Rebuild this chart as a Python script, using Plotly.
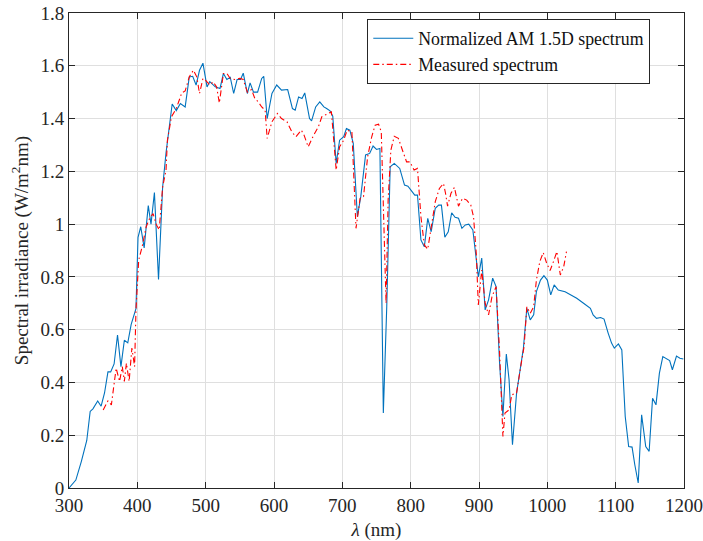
import plotly.graph_objects as go

# Normalized AM 1.5D reference spectrum (wavelength in nm, irradiance in W/m^2nm)
am15_wl = [300, 310, 318, 326, 331, 335, 342, 347, 352, 357, 361, 366, 371, 376, 381, 386,
           391, 396, 398, 401, 405, 410, 416, 420, 425, 431, 437, 442, 445, 451, 457, 463,
           470, 476, 481, 486, 491, 496, 502, 506, 514, 521, 526, 531, 536, 541, 546, 551,
           555, 561, 565, 570, 576, 582, 585, 590, 597, 604, 611, 620, 627, 631, 636, 641,
           645, 652, 655, 661, 667, 673, 677, 682, 686, 691, 696, 702, 706, 711, 716, 722,
           727, 734, 740, 745, 750, 755, 760, 765, 770, 776, 784, 791, 796, 806, 810, 815,
           820, 825, 830, 836, 841, 845, 850, 855, 860, 865, 870, 875, 880, 885, 891, 896,
           899, 904, 909, 914, 920, 925, 930, 935, 940, 944, 949, 955, 960, 965, 970, 975,
           980, 984, 990, 995, 1000, 1005, 1010, 1016, 1026, 1033, 1043, 1053, 1063, 1067,
           1072, 1078, 1083, 1089, 1094, 1098, 1104, 1109, 1114, 1119, 1124, 1128, 1133,
           1138, 1144, 1149, 1154, 1159, 1164, 1169, 1174, 1179, 1183, 1189, 1194, 1199]
am15_val = [0.00, 0.03, 0.10, 0.18, 0.29, 0.30, 0.33, 0.31, 0.36, 0.44, 0.44, 0.47, 0.58, 0.46, 0.56, 0.55,
            0.62, 0.67, 0.68, 0.95, 0.99, 0.91, 1.07, 1.00, 1.12, 0.79, 1.14, 1.27, 1.34, 1.455, 1.43, 1.457,
            1.444, 1.558, 1.56, 1.527, 1.583, 1.61, 1.52, 1.54, 1.52, 1.514, 1.571, 1.548, 1.556, 1.495, 1.548, 1.548,
            1.572, 1.495, 1.535, 1.50, 1.50, 1.552, 1.56, 1.40, 1.495, 1.527, 1.508, 1.51, 1.438, 1.432, 1.482, 1.476,
            1.497, 1.40, 1.391, 1.444, 1.463, 1.444, 1.438, 1.429, 1.409, 1.23, 1.318, 1.331, 1.362, 1.356, 1.306, 1.028,
            1.104, 1.262, 1.268, 1.296, 1.283, 1.287, 0.284, 0.687, 1.217, 1.23, 1.211, 1.148, 1.144, 1.11, 1.11, 0.94,
            0.914, 1.022, 0.971, 1.06, 1.072, 1.072, 0.95, 0.971, 1.043, 1.026, 1.022, 0.984, 0.997, 1.0, 0.978, 0.852,
            0.80, 0.871, 0.675, 0.713, 0.795, 0.763, 0.479, 0.271, 0.508, 0.41, 0.164, 0.36, 0.441, 0.53, 0.681, 0.637,
            0.656, 0.744, 0.788, 0.805, 0.788, 0.732, 0.77, 0.75, 0.744, 0.735, 0.719, 0.70, 0.681, 0.656,
            0.643, 0.646, 0.64, 0.587, 0.549, 0.53, 0.546, 0.523, 0.271, 0.157, 0.155, 0.088, 0.019,
            0.277, 0.157, 0.139, 0.34, 0.315, 0.435, 0.498, 0.492, 0.483, 0.448, 0.50, 0.492, 0.489]

# Measured spectrum
meas_wl = [350, 357, 362, 369, 374, 378, 381, 384, 388, 392, 396, 398, 402, 407, 413, 418,
           423, 428, 432, 437, 442, 444, 450, 457, 465, 470, 476, 482, 487, 491, 496, 500,
           506, 511, 516, 520, 526, 531, 536, 543, 550, 555, 561, 567, 572, 577, 582, 587,
           590, 597, 605, 611, 619, 626, 632, 640, 644, 650, 658, 665, 670, 677, 684, 691,
           696, 702, 707, 714, 720, 726, 731, 737, 743, 748, 753, 757, 760, 764, 767, 771,
           776, 782, 788, 794, 799, 805, 810, 815, 820, 825, 831, 836, 842, 848, 851, 854,
           859, 864, 870, 876, 882, 888, 892, 896, 899, 904, 909, 914, 919, 925, 930, 935,
           938, 944, 948, 955, 961, 966, 970, 975, 980, 984, 989, 994, 999, 1004, 1009,
           1014, 1019, 1024, 1028]
meas_val = [0.296, 0.33, 0.315, 0.454, 0.404, 0.46, 0.404, 0.473, 0.404, 0.53, 0.46, 0.675, 0.864, 0.914, 0.99, 1.022,
            1.04, 0.997, 0.978, 1.14, 1.205, 1.318, 1.407, 1.438, 1.497, 1.505, 1.558, 1.583, 1.558, 1.495, 1.552, 1.545,
            1.527, 1.539, 1.52, 1.459, 1.571, 1.571, 1.552, 1.548, 1.552, 1.548, 1.50, 1.51, 1.476, 1.463, 1.444, 1.432,
            1.325, 1.388, 1.419, 1.40, 1.388, 1.35, 1.331, 1.356, 1.337, 1.293, 1.337, 1.369, 1.407, 1.417, 1.425, 1.205,
            1.293, 1.318, 1.356, 1.35, 0.984, 1.098, 1.104, 1.255, 1.331, 1.375, 1.379, 1.35, 1.09, 0.70, 1.09, 1.28,
            1.333, 1.325, 1.28, 1.236, 1.236, 1.205, 1.211, 1.028, 0.921, 0.905, 1.003, 1.085, 1.135, 1.154, 1.117, 1.068,
            1.117, 1.139, 1.068, 1.098, 1.091, 1.072, 1.028, 0.889, 0.694, 0.826, 0.70, 0.656, 0.725, 0.763, 0.523, 0.195,
            0.284, 0.296, 0.353, 0.36, 0.46, 0.536, 0.687, 0.662, 0.687, 0.788, 0.858, 0.892, 0.852, 0.824, 0.858,
            0.896, 0.807, 0.839, 0.896]

x_ticks = [300, 400, 500, 600, 700, 800, 900, 1000, 1100, 1200]
y_ticks = [0, 0.2, 0.4, 0.6, 0.8, 1.0, 1.2, 1.4, 1.6, 1.8]
y_tick_text = ["0", "0.2", "0.4", "0.6", "0.8", "1", "1.2", "1.4", "1.6", "1.8"]

FONT = "Liberation Serif, Times New Roman, serif"
AXIS_COLOR = "#262626"
GRID_COLOR = "#dfdfdf"

fig = go.Figure()
fig.add_trace(go.Scatter(
    x=am15_wl, y=am15_val, mode="lines",
    name="Normalized AM 1.5D spectrum",
    line=dict(color="#0072BD", width=1.1),
))
fig.add_trace(go.Scatter(
    x=meas_wl, y=meas_val, mode="lines",
    name="Measured spectrum",
    line=dict(color="#FF0000", width=1.1, dash="6px,3px,1.5px,3px"),
))

axis_common = dict(
    showline=True, linecolor=AXIS_COLOR, linewidth=1, mirror="ticks",
    ticks="inside", ticklen=6, tickcolor=AXIS_COLOR, tickwidth=1,
    showgrid=True, gridcolor=GRID_COLOR, gridwidth=1, zeroline=False,
    tickfont=dict(family=FONT, size=19, color=AXIS_COLOR),
    automargin=False,
)

fig.update_xaxes(
    range=[300, 1200], tickvals=x_ticks,
    title=dict(text="<i>λ</i> (nm)", font=dict(family=FONT, size=19, color=AXIS_COLOR), standoff=9),
    **axis_common,
)
fig.update_yaxes(
    range=[0, 1.8], tickvals=y_ticks, ticktext=y_tick_text,
    title=dict(text="Spectral irradiance (W/m<sup>2</sup>nm)",
               font=dict(family=FONT, size=19, color=AXIS_COLOR), standoff=6),
    **axis_common,
)

fig.update_layout(
    width=703, height=541,
    margin=dict(l=69, r=19, t=13, b=53),
    paper_bgcolor="white", plot_bgcolor="white",
    font=dict(family=FONT, size=19, color=AXIS_COLOR),
    showlegend=True,
    legend=dict(
        x=0.485, y=0.987, xanchor="left", yanchor="top",
        bgcolor="white", bordercolor=AXIS_COLOR, borderwidth=1,
        font=dict(family=FONT, size=17.8, color="#111111"),
        tracegroupgap=0, itemwidth=40,
    ),
)

fig.write_html("out.html")
